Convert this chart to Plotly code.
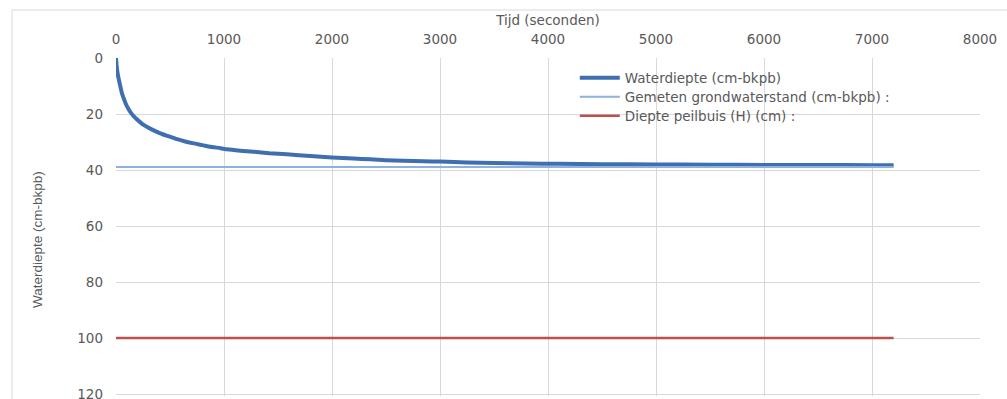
import plotly.graph_objects as go

# Time (s) and measured water depth (cm below top of tube)
tijd = [0, 3, 8, 15, 24, 40, 55, 80, 102, 140, 179, 220, 256, 330, 410, 490,
        565, 640, 719, 800, 873, 968, 1028, 1150, 1274, 1420, 1583, 1800,
        2000, 2200, 2355, 2500, 2663, 2850, 3003, 3250, 3500, 3800, 4100,
        4500, 5000, 5500, 6000, 6500, 7000, 7200]
waterdiepte = [0.0, 1.5, 3.6, 5.5, 7.3, 10.1, 12.6, 15.3, 17.3, 19.7, 21.4,
               22.8, 23.9, 25.5, 26.9, 28.0, 29.0, 29.8, 30.5, 31.1, 31.7,
               32.2, 32.6, 33.1, 33.5, 34.0, 34.4, 35.0, 35.5, 35.9, 36.2,
               36.5, 36.7, 36.9, 37.0, 37.3, 37.5, 37.7, 37.8, 37.9, 38.0,
               38.1, 38.2, 38.2, 38.3, 38.3]

# Reference levels over the test period
periode = [0, 7200]
grondwaterstand = [38.9, 38.9]
diepte_peilbuis = [100, 100]

x_ticks = [0, 1000, 2000, 3000, 4000, 5000, 6000, 7000, 8000]
y_ticks = [0, 20, 40, 60, 80, 100, 120]

grid = "#d9d9d9"
text_col = "#595959"
font = "DejaVu Sans, sans-serif"
fs = 13.5

fig = go.Figure()
fig.add_trace(go.Scatter(x=tijd, y=waterdiepte, mode="lines",
                         name="Waterdiepte (cm-bkpb)", legend="legend",
                         line=dict(color="#3f6fb0", width=4, shape="spline",
                                   smoothing=0.6)))
fig.add_trace(go.Scatter(x=periode, y=grondwaterstand, mode="lines",
                         name="Gemeten grondwaterstand (cm-bkpb) :",
                         legend="legend2",
                         line=dict(color="#8eb1e2", width=2)))
fig.add_trace(go.Scatter(x=periode, y=diepte_peilbuis, mode="lines",
                         name="Diepte peilbuis (H) (cm) :", legend="legend3",
                         line=dict(color="#c0504d", width=2.5)))


def legend_at(y):
    return dict(x=0.531, y=y, xanchor="left", yanchor="middle",
                bgcolor="rgba(0,0,0,0)", itemwidth=40,
                font=dict(family=font, size=fs, color=text_col))


fig.update_layout(
    width=1007, height=399,
    margin=dict(l=116, r=27, t=58, b=3),
    paper_bgcolor="white", plot_bgcolor="white",
    font=dict(family=font, size=fs, color=text_col),
    showlegend=True,
    legend=legend_at(0.9408),
    legend2=legend_at(0.8846),
    legend3=legend_at(0.8284),
    xaxis=dict(side="top", range=[0, 8000], tickvals=x_ticks,
               automargin=False,
               showgrid=True, gridcolor=grid, gridwidth=1,
               zeroline=False, showline=False, ticks="",
               ticklabelstandoff=10,
               tickfont=dict(size=fs, color=text_col),
               title=dict(text="Tijd (seconden)", standoff=2,
                          font=dict(size=fs, color=text_col))),
    yaxis=dict(range=[120.7, 0], tickvals=y_ticks, automargin=False,
               showgrid=True, gridcolor=grid, gridwidth=1,
               zeroline=False, showline=False, ticks="",
               ticklabelstandoff=12, ticklabeloverflow="allow",
               tickfont=dict(size=fs, color=text_col)),
)

# Vertical axis title, centred on the full chart body
fig.add_annotation(text="Waterdiepte (cm-bkpb)", textangle=-90,
                   xref="paper", yref="paper", x=-79 / 864, y=0.4615,
                   xanchor="center", yanchor="middle", showarrow=False,
                   font=dict(family="Liberation Sans, Arial, sans-serif",
                             size=fs, color=text_col))

# Chart frame
fig.add_shape(type="rect", xref="paper", yref="paper",
              x0=-104 / 864, x1=1020 / 864, y0=-0.2, y1=1 + 48 / 338,
              line=dict(color="#d9d9d9", width=1), layer="below")

fig.write_html("out.html")
